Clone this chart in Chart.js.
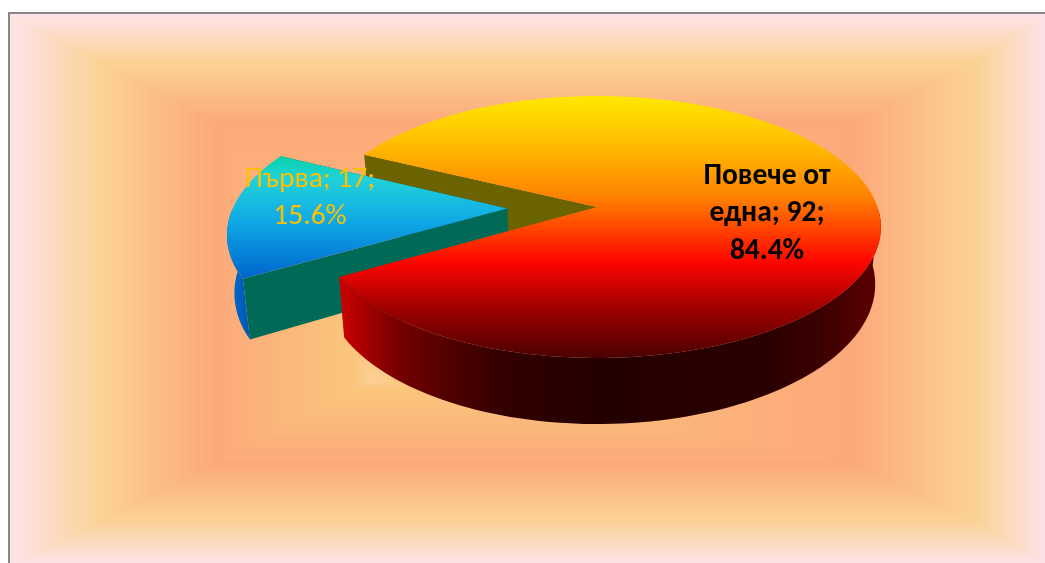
<!DOCTYPE html>
<html lang="bg">
<head>
    <meta charset="UTF-8">
    <title>3D кръгова диаграма</title>
    <script src="https://cdn.jsdelivr.net/npm/chart.js"></script>
    <style>
        html, body { margin: 0; padding: 0; background: #fff; overflow: hidden; }
        canvas { display: block; }
    </style>
</head>
<body>
    <canvas id="pieChart" width="1045" height="563"></canvas>

    <script>
        const categories = ['Първа', 'Повече от една'];
        const values = [17, 92];
        // how each data label wraps
        const labelLines = [['Първа'], ['Повече от', 'една']];
        const explode = [90, 0];

        // tilt of the pie: perspective strength, sideways lean, vertical squash (of a 280.6 radius),
        // wall height, shrink of the lower rim
        const tilt = { k: 0.1527, lean: -0.009, squash: 127.9, depth: 56, rim: 0.98 };

        // frame fill: rings running in from each side towards a focus
        const frame = { left: 10, top: 14, right: 1045, bottom: 563 };
        const ringsLeft = [10, 100, 215, 354, 370];
        const ringsRight = [1045, 975, 853, 402, 370];
        const ringsTop = [14, 63, 122, 354, 380];
        const ringsBottom = [563, 520, 463, 388, 380];
        const ringColors = [[253, 227, 232], [251, 210, 148], [252, 169, 122], [251, 198, 124], [251, 208, 152]];

        function ringProgress(stops, pos) {
            const dir = stops[1] > stops[0] ? 1 : -1;
            const p = pos * dir;
            for (let i = 0; i < stops.length - 1; i++) {
                const a = stops[i] * dir, b = stops[i + 1] * dir;
                if (p <= b) return i + (p - a) / (b - a);
            }
            return stops.length - 1;
        }

        const paintFrame = {
            id: 'paintFrame',
            beforeDraw(chart) {
                const ctx = chart.ctx;
                const w = frame.right - frame.left, h = frame.bottom - frame.top;
                const img = ctx.createImageData(w, h);
                for (let y = 0; y < h; y++) {
                    const ty = Math.min(ringProgress(ringsTop, y + frame.top), ringProgress(ringsBottom, y + frame.top));
                    for (let x = 0; x < w; x++) {
                        const px = x + frame.left;
                        const t = Math.min(ty, ringProgress(ringsLeft, px), ringProgress(ringsRight, px));
                        const i = Math.min(Math.floor(t), ringColors.length - 2);
                        const f = t - i;
                        const c0 = ringColors[i], c1 = ringColors[i + 1];
                        const o = (y * w + x) * 4;
                        img.data[o] = c0[0] + (c1[0] - c0[0]) * f;
                        img.data[o + 1] = c0[1] + (c1[1] - c0[1]) * f;
                        img.data[o + 2] = c0[2] + (c1[2] - c0[2]) * f;
                        img.data[o + 3] = 255;
                    }
                }
                ctx.putImageData(img, frame.left, frame.top);
                ctx.fillStyle = '#888';
                ctx.fillRect(frame.left - 2, frame.top - 2, w + 2, 2);
                ctx.fillRect(frame.left - 2, frame.top - 2, 2, h + 2);
            }
        };

        // arc element -> points on the tilted disc
        function projector(arc) {
            const p = arc.getProps(['x', 'y', 'startAngle', 'endAngle', 'outerRadius']);
            const mid = (p.startAngle + p.endAngle) / 2;
            const shift = (arc.options.offset || 0) / p.outerRadius;
            const sx = Math.cos(mid) * shift, sy = Math.sin(mid) * shift;
            const at = (u, v, low) => {
                const w = 1 + tilt.k * v;
                const s = low ? tilt.rim : 1;
                return [
                    p.x + p.outerRadius * u * s / (w + tilt.lean * u),
                    p.y - tilt.squash * v / w + (low ? tilt.depth / w : 0)
                ];
            };
            return {
                start: p.startAngle,
                end: p.endAngle,
                apex: low => at(sx, -sy, low),
                rim: (a, low) => at(Math.cos(a) + sx, -Math.sin(a) - sy, low)
            };
        }

        function fillPath(ctx, points, fill) {
            ctx.beginPath();
            points.forEach((pt, i) => i ? ctx.lineTo(pt[0], pt[1]) : ctx.moveTo(pt[0], pt[1]));
            ctx.closePath();
            ctx.fillStyle = fill;
            ctx.fill();
        }

        function rimAngles(pr) {
            const out = [];
            const n = 180;
            for (let i = 0; i <= n; i++) out.push(pr.start + (pr.end - pr.start) * i / n);
            return out;
        }

        function drawCuts(ctx, pr, color) {
            [pr.start, pr.end].forEach(a => {
                fillPath(ctx, [pr.apex(false), pr.rim(a, false), pr.rim(a, true), pr.apex(true)], color);
            });
        }

        function drawOuter(ctx, pr, fill) {
            // only the part of the rim turned towards the viewer
            const front = rimAngles(pr).filter(a => Math.sin(a) > 0);
            const upper = front.map(a => pr.rim(a, false));
            const lower = front.map(a => pr.rim(a, true)).reverse();
            fillPath(ctx, upper.concat(lower), fill);
        }

        function drawTop(ctx, pr, fill) {
            fillPath(ctx, [pr.apex(false)].concat(rimAngles(pr).map(a => pr.rim(a, false))), fill);
        }

        function gradient(ctx, x0, y0, x1, y1, stops) {
            const g = ctx.createLinearGradient(x0, y0, x1, y1);
            stops.forEach(s => g.addColorStop(s[0], s[1]));
            return g;
        }

        const pie3d = {
            id: 'pie3d',
            beforeDatasetDraw(chart, args) {
                const ctx = chart.ctx;
                const small = projector(args.meta.data[0]);
                const big = projector(args.meta.data[1]);

                const bigTop = gradient(ctx, 0, 96, 0, 358, [
                    [0, '#ffe800'], [0.17, '#ffc000'], [0.38, '#ff8400'], [0.63, '#ff0600'], [0.8, '#a50000'], [1, '#4a0000']
                ]);
                const bigWall = gradient(ctx, 342, 0, 881, 0, [
                    [0, '#c80000'], [0.072, '#900000'], [0.108, '#750000'], [0.2, '#500000'], [0.293, '#340000'],
                    [0.48, '#240000'], [0.8, '#2c0000'], [0.89, '#3c0000'], [0.97, '#550000'], [1, '#5c0000']
                ]);
                const smallTop = gradient(ctx, 0, 155, 0, 276, [
                    [0, '#08d2a6'], [0.2, '#20d2da'], [0.55, '#10a8e6'], [1, '#0068cc']
                ]);
                const smallWall = gradient(ctx, 225, 0, 250, 0, [[0, '#0070d8'], [1, '#0056b0']]);

                drawCuts(ctx, big, '#6b6300');
                drawCuts(ctx, small, '#006a56');
                drawOuter(ctx, small, smallWall);
                drawTop(ctx, small, smallTop);
                drawOuter(ctx, big, bigWall);
                drawTop(ctx, big, bigTop);
                return false;
            },
            afterDatasetsDraw(chart) {
                const ctx = chart.ctx;
                const total = values.reduce((a, b) => a + b, 0);
                const styles = [
                    { x: 310, y: 198, font: '29.5px Carlito, Lato, "Open Sans", sans-serif', color: '#ffc000' },
                    { x: 767, y: 214, font: 'bold 29.5px Carlito, Lato, "Open Sans", sans-serif', color: '#000' }
                ];
                ctx.textAlign = 'center';
                ctx.textBaseline = 'middle';
                values.forEach((val, i) => {
                    const lines = labelLines[i].slice();
                    lines[lines.length - 1] += '; ' + val + ';';
                    lines.push((val / total * 100).toFixed(1) + '%');
                    ctx.font = styles[i].font;
                    ctx.fillStyle = styles[i].color;
                    lines.forEach((line, n) => {
                        ctx.fillText(line, styles[i].x, styles[i].y + (n - (lines.length - 1) / 2) * 37.5);
                    });
                });
            }
        };

        new Chart(document.getElementById('pieChart'), {
            type: 'pie',
            data: {
                labels: categories,
                datasets: [{
                    data: values,
                    offset: explode,
                    borderWidth: 0,
                    backgroundColor: ['#10a8e6', '#ff8400']
                }]
            },
            options: {
                responsive: false,
                animation: false,
                rotation: 239.7,
                radius: 278,
                layout: { padding: { left: 149, bottom: 149 } },
                plugins: { legend: { display: false }, tooltip: { enabled: false } }
            },
            plugins: [paintFrame, pie3d]
        });
    </script>
</body>
</html>
